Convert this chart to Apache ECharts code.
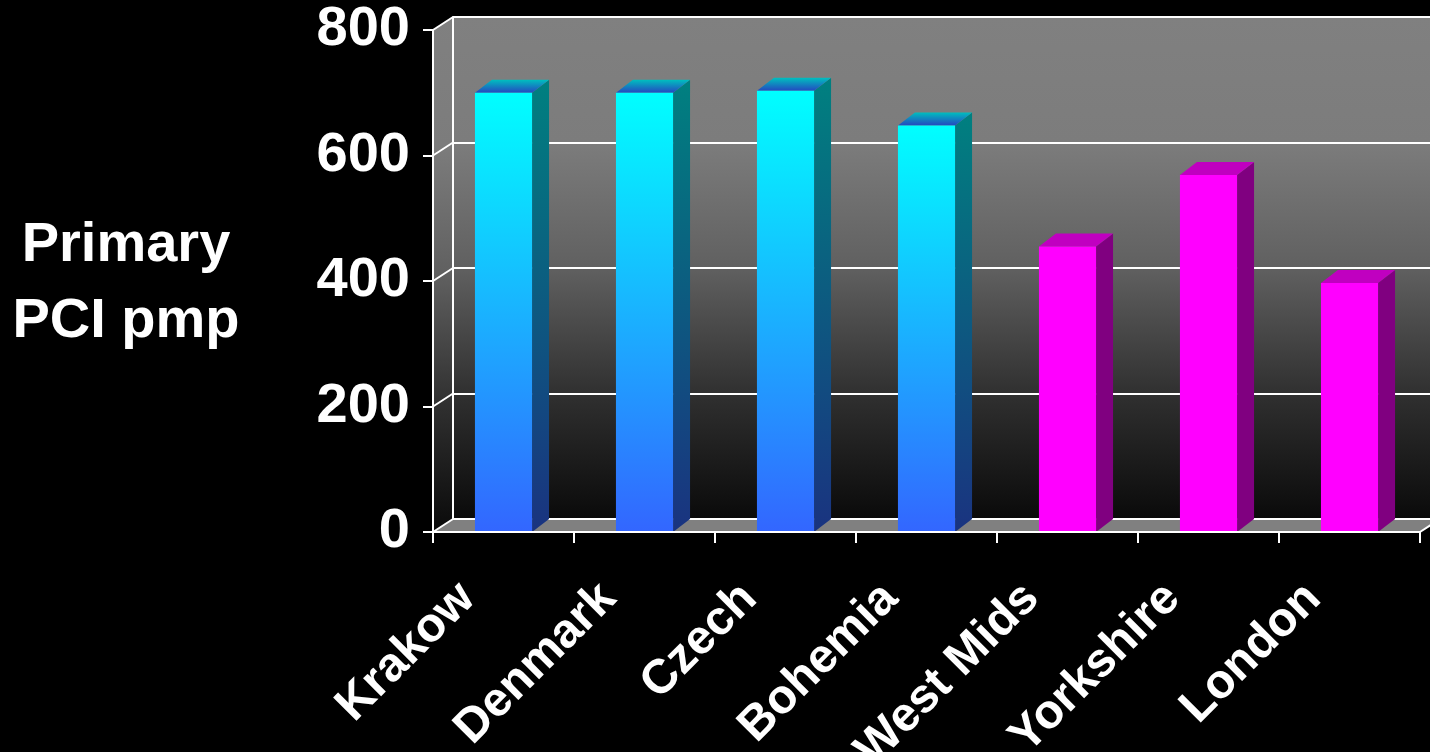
<!DOCTYPE html>
<html><head><meta charset="utf-8">
<script src="https://cdn.jsdelivr.net/npm/echarts@6/dist/echarts.min.js"></script>
<style>html,body{margin:0;padding:0;background:#000;}#c{width:1430px;height:752px;}</style>
</head><body><div id="c"></div>
<script>
// ---- data ----
const categories = ['Krakow', 'Denmark', 'Czech', 'Bohemia', 'West Mids', 'Yorkshire', 'London'];
const values = [700, 700, 703, 648, 455, 569, 397];
const groups = [0, 0, 0, 0, 1, 1, 1];   // 0 = central Europe (cyan), 1 = UK (magenta)
const yTicks = [0, 200, 400, 600, 800];
const yName = 'Primary\nPCI pmp';

// ---- styling ----
const FONT = '"Liberation Sans", Arial, sans-serif';
const palette = [
  { front: ['#00FFFF', '#3366FF'], side: ['#008080', '#1A3380'], top: ['#00BFBF', '#2448C0'] },
  { front: ['#FF00FF', '#FF00FF'], side: ['#800080', '#800080'], top: ['#C000C0', '#C000C0'] }
];
const DX = 17, DY = 13;    // bar depth
const WDX = 20, WDY = 13;  // wall depth
const grad = (c) => ({ type: 'linear', x: 0, y: 0, x2: 0, y2: 1,
  colorStops: c.map((col, i) => ({ offset: i / (c.length - 1), color: col })) });
const wallGrad = { type: 'linear', x: 0, y: 0, x2: 0, y2: 1, colorStops: [
  { offset: 0, color: '#808080' }, { offset: 0.25, color: '#7c7c7c' },
  { offset: 0.5, color: '#606060' }, { offset: 0.75, color: '#303030' },
  { offset: 1, color: '#0a0a0a' } ] };
const yMin = yTicks[0], yMax = yTicks[yTicks.length - 1], yStep = yTicks[1] - yTicks[0];

const chart = echarts.init(document.getElementById('c'), null, { renderer: 'canvas' });

const option = {
  backgroundColor: '#000',
  animation: false,
  grid: [
    { left: 433, top: 30, width: 987, height: 502, containLabel: false, outerBoundsMode: 'none' },
    { left: 453, top: 17, width: 987, height: 502, show: true, borderWidth: 0,
      backgroundColor: wallGrad, containLabel: false, outerBoundsMode: 'none' }
  ],
  xAxis: [
    { type: 'category', gridIndex: 0, data: categories, boundaryGap: true, z: 5,
      axisLine: { show: true, lineStyle: { color: '#fff', width: 2 } },
      axisTick: { show: true, length: 11, interval: 0, lineStyle: { color: '#fff', width: 2 } },
      axisLabel: { interval: 0, rotate: 45, margin: 23, padding: [0, 51, 0, 0],
        color: '#fff', fontSize: 48, fontWeight: 'bold', fontFamily: FONT },
      splitLine: { show: false } },
    { type: 'category', gridIndex: 1, data: categories, show: false }
  ],
  yAxis: [
    { type: 'value', gridIndex: 0, min: yMin, max: yMax, interval: yStep, z: 5,
      axisLine: { show: true, lineStyle: { color: '#fff', width: 2 } },
      axisTick: { show: true, length: 10, lineStyle: { color: '#fff', width: 2 } },
      axisLabel: { margin: 23, color: '#fff', fontSize: 56, fontWeight: 'bold', fontFamily: FONT },
      splitLine: { show: false } },
    { type: 'value', gridIndex: 1, min: yMin, max: yMax, interval: yStep, z: 2,
      axisLine: { show: true, lineStyle: { color: '#fff', width: 2 } },
      axisTick: { show: false }, axisLabel: { show: false },
      splitLine: { show: true, lineStyle: { color: '#fff', width: 2 } } }
  ],
  graphic: [
    { type: 'text', x: 126, y: 284, z: 10,
      style: { text: yName, fill: '#fff', fontSize: 56, fontWeight: 'bold', fontFamily: FONT,
        align: 'center', verticalAlign: 'middle', lineHeight: 76 } }
  ],
  series: [
    { // side wall and floor of the 3D box
      type: 'custom', xAxisIndex: 0, yAxisIndex: 0, z: 1, silent: true, clip: false,
      data: [[0, 0]],
      renderItem: function (params, api) {
        const cs = params.coordSys;
        const x = cs.x, y = cs.y, w = cs.width, h = cs.height;
        const ch = [];
        ch.push({ type: 'polygon', shape: { points: [[x, y], [x + WDX, y - WDY], [x + WDX, y + h - WDY], [x, y + h]] },
          style: { fill: wallGrad } });
        ch.push({ type: 'polygon', shape: { points: [[x, y + h], [x + WDX, y + h - WDY], [x + w + WDX, y + h - WDY], [x + w, y + h]] },
          style: { fill: '#808080' } });
        yTicks.forEach(function (v) {
          const py = api.coord([0, v])[1];
          ch.push({ type: 'line', shape: { x1: x, y1: py, x2: x + WDX, y2: py - WDY },
            style: { stroke: '#fff', lineWidth: 2 } });
        });
        ch.push({ type: 'line', shape: { x1: x + w, y1: y + h, x2: x + w + WDX, y2: y + h - WDY },
          style: { stroke: '#fff', lineWidth: 2 } });
        return { type: 'group', children: ch };
      }
    },
    { // 3D bars
      type: 'custom', xAxisIndex: 0, yAxisIndex: 0, z: 3, clip: false,
      encode: { x: 0, y: 1 },
      data: values.map((v, i) => [i, v, groups[i]]),
      renderItem: function (params, api) {
        const p = palette[api.value(2)];
        const top = api.coord([api.value(0), api.value(1)]);
        const base = api.coord([api.value(0), 0]);
        const bw = api.size([1, 0])[0] * 0.405;
        const x0 = top[0] - bw / 2, x1 = top[0] + bw / 2;
        const yT = top[1], yB = base[1];
        return { type: 'group', children: [
          { type: 'polygon', shape: { points: [[x1, yT], [x1 + DX, yT - DY], [x1 + DX, yB - DY], [x1, yB]] },
            style: { fill: grad(p.side) } },
          { type: 'polygon', shape: { points: [[x0, yT], [x0 + DX, yT - DY], [x1 + DX, yT - DY], [x1, yT]] },
            style: { fill: grad(p.top) } },
          { type: 'rect', shape: { x: x0, y: yT, width: bw, height: yB - yT },
            style: { fill: grad(p.front) } }
        ] };
      }
    }
  ]
};
chart.setOption(option);
</script>
</body></html>
